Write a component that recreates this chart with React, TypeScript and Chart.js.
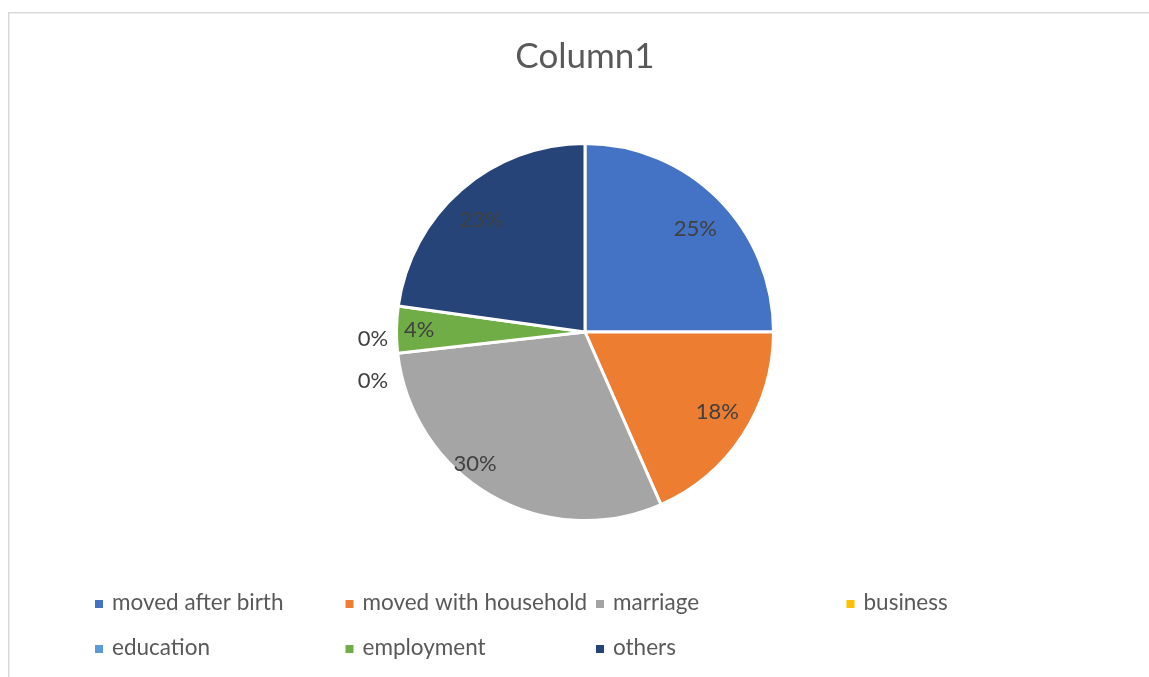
import React, { useEffect, useRef } from "react";
import { Chart, registerables } from "chart.js";

Chart.register(...registerables);

// ---------- data ----------
const chartTitle = "Column1";
const categories = [
  "moved after birth",
  "moved with household",
  "marriage",
  "business",
  "education",
  "employment",
  "others",
];
const values = [25.0, 18.4, 29.8, 0, 0, 4.0, 22.8];
const colors = ["#4472C4", "#ED7D31", "#A5A5A5", "#FFC000", "#5B9BD5", "#70AD47", "#264478"];

// ---------- styling ----------
const FONT = "Lato, 'Liberation Sans', sans-serif";
const labelRadius = [0.8, 0.82, 0.91, 0, 0, 0.88, 0.81];
const labelAngleShift = [2, -2, 10, 0, 0, 0, -2];

const W = 1149;
const H = 677;

const decorPlugin = {
  id: "decor",
  beforeDraw(chart: any) {
    const ctx = chart.ctx;
    ctx.save();
    ctx.fillStyle = "#ffffff";
    ctx.fillRect(0, 0, W, H);
    ctx.strokeStyle = "#D9D9D9";
    ctx.lineWidth = 1.5;
    ctx.strokeRect(8.75, 12.75, W + 20, H + 20);
    // title
    ctx.fillStyle = "#595959";
    ctx.font = `35px ${FONT}`;
    ctx.textAlign = "center";
    ctx.textBaseline = "middle";
    ctx.fillText(chartTitle, 585, 57);
    ctx.restore();
  },
  afterDatasetsDraw(chart: any) {
    const ctx = chart.ctx;
    const meta = chart.getDatasetMeta(0);
    const total = values.reduce((a, b) => a + b, 0);
    ctx.save();
    ctx.fillStyle = "#404040";
    ctx.font = `22px ${FONT}`;
    ctx.textAlign = "center";
    ctx.textBaseline = "middle";
    const zeros: { angle: number; x: number; y: number; r: number }[] = [];
    meta.data.forEach((arc: any, i: number) => {
      const p = arc.getProps(["startAngle", "endAngle", "outerRadius", "x", "y"], true);
      const pct = Math.round((values[i] / total) * 100) + "%";
      if (values[i] === 0) {
        zeros.push({ angle: p.startAngle, x: p.x, y: p.y, r: p.outerRadius });
        return;
      }
      const mid = (p.startAngle + p.endAngle) / 2 + (labelAngleShift[i] * Math.PI) / 180;
      const r = p.outerRadius * labelRadius[i];
      ctx.fillText(pct, p.x + Math.cos(mid) * r, p.y + Math.sin(mid) * r);
    });
    const n = zeros.length;
    zeros.forEach((z, k) => {
      const r = z.r + 25;
      const x = z.x + Math.cos(z.angle) * r;
      const y = z.y + Math.sin(z.angle) * r + 4 + (k - (n - 1) / 2) * 42;
      ctx.fillText("0%", x, y);
    });
    ctx.restore();
  },
  afterDraw(chart: any) {
    const ctx = chart.ctx;
    ctx.save();
    ctx.font = `22.5px ${FONT}`;
    ctx.textAlign = "left";
    ctx.textBaseline = "middle";
    categories.forEach((c, i) => {
      const col = i % 4;
      const row = Math.floor(i / 4);
      const bx = 95 + col * 250.5;
      const by = 604 + row * 45;
      ctx.fillStyle = colors[i];
      ctx.fillRect(bx, by - 4, 8, 8);
      ctx.fillStyle = "#595959";
      ctx.fillText(c, bx + 17, by - 1);
    });
    ctx.restore();
  },
};

export default function App() {
  const ref = useRef<HTMLCanvasElement>(null);
  useEffect(() => {
    if (!ref.current) return;
    const chart = new Chart(ref.current, {
      type: "pie",
      data: {
        labels: categories,
        datasets: [
          {
            data: values,
            backgroundColor: colors,
            borderColor: "#ffffff",
            borderWidth: 3,
          },
        ],
      },
      options: {
        animation: false,
        responsive: false,
        devicePixelRatio: 1,
        events: [],
        layout: { padding: { left: 395, right: 374, top: 142, bottom: 155 } },
        plugins: {
          legend: { display: false },
          title: { display: false },
          tooltip: { enabled: false },
        },
      },
      plugins: [decorPlugin],
    });
    return () => chart.destroy();
  }, []);
  return (
    <div style={{ position: "fixed", left: 0, top: 0, width: W, height: H, background: "#fff" }}>
      <canvas ref={ref} width={W} height={H} style={{ display: "block", width: W, height: H }} />
    </div>
  );
}
